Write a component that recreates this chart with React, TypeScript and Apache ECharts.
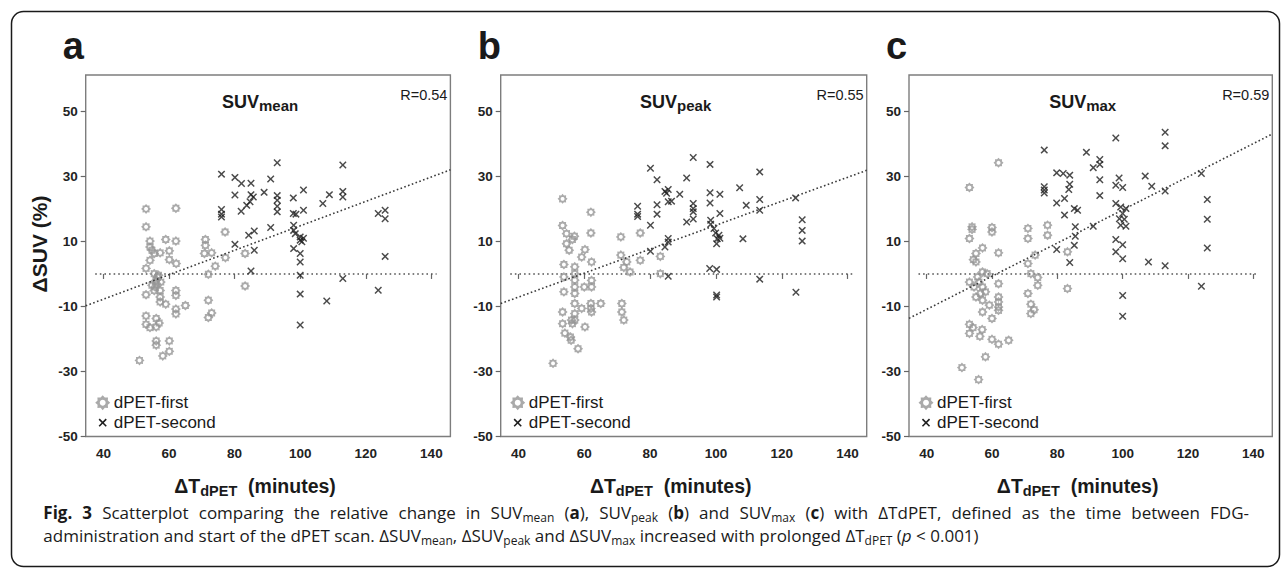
import React, { useEffect, useRef } from "react";
import * as echarts from "echarts";

// ---------------- data ----------------
const xTicks = [40, 60, 80, 100, 120, 140];
const yTicks = [-50, -30, -10, 10, 30, 50];
const xExtent = [34.6, 145.8];
const yExtent = [-50, 61.2];
const panelLetters = ["a", "b", "c"];
const panelMeasures = ["mean", "peak", "max"];
const rLabels = ["R=0.54", "R=0.55", "R=0.59"];
const fitSlopes = [0.376, 0.3685, 0.51];
const fitIntercepts = [-22.8, -21.85, -31.3];
const zeroLineX = [37.5, 141.6];
const seriesNames = ["dPET-first", "dPET-second"];

const meanFirst = [
  [53, 20.0], [62.1, 20.2], [53, 14.5], [54.2, 10.1], [59, 10.6], [62.1, 10.1], [71.1, 10.6],
  [54.2, 8.3], [54.8, 7.3], [55.5, 6.3], [60.1, 7.1], [57.3, 6.5], [71.1, 8.8], [70.8, 6.3],
  [73, 6.5], [54.2, 4.2], [60.1, 4.4], [62.2, 3.2], [77.2, 5.0], [74.1, 2.4], [77.1, 12.9],
  [83.2, 6.3], [53, 1.7], [55.5, 0.1], [56.8, -0.4], [56, -2], [54.8, -3.5], [55.5, -5.1],
  [57.3, -5.1], [53, -6.4], [57.3, -7.1], [57.3, -8.6], [59, -9.3], [62.1, -5.1], [62.1, -6.6],
  [72, -0.1], [72, -8.1], [65, -9.7], [62.1, -10.8], [62.1, -12.3], [83.2, -3.7], [73, -12],
  [72, -13.4], [53, -12.9], [53, -15.5], [54.2, -16.5], [56.1, -13.7], [57, -15.1], [56.1, -16.3],
  [56.1, -20.6], [56.1, -21.9], [60.1, -20.6], [60.1, -23.8], [58.1, -25.2], [51, -26.6],
  [56.5, -1], [57.5, -2.5], [55.8, -4], [56.2, -3],
];
const meanSecond = [
  [76, 30.7], [80.1, 29.7], [82.1, 27.8], [85, 27.9], [89, 25.1], [80.1, 24.3], [85, 24.4],
  [82, 19.3], [83.7, 21.1], [84.7, 22.2], [85.7, 23.7], [76, 19.8], [76, 18.4], [76, 17.5],
  [84.3, 11.9], [86, 13.2], [80.1, 9.1], [86, 7.3], [85, 0.9],
  [93, 34.2], [113, 33.5], [91, 29.2], [93, 24.1], [93, 22.7], [93, 20.8], [93, 19.1],
  [97.9, 23.4], [101, 25.8], [101, 19.6], [97.9, 18.6], [98.7, 18.4], [106.9, 21.7],
  [108.9, 24.4], [113, 25.4], [113, 23.7], [123.8, 18.6], [125.9, 19.6], [125.9, 17.0],
  [91, 14.3], [98, 15], [98, 13.4], [98.5, 12.4], [100, 11.4], [100, 10.4], [100.5, 9.9],
  [101, 11], [98, 7.8], [100, 6.3], [100, 3.7], [100, -0.4], [125.9, 5.4], [113, -1.4],
  [123.8, -5.0], [100, -6.2], [108.1, -8.3], [100, -15.7],
];
const peakFirst = [
  [53.4, 23.1], [62, 19], [53.4, 14.9], [62, 12.6], [54.6, 12.4], [56.4, 10.6], [54.6, 9.3],
  [55.4, 7.3], [57, 11.6], [60.2, 7.5], [59.2, 5.2], [62.2, 3.7], [71.1, 11.4], [77, 12.6],
  [71.1, 5.8], [72.9, 3.7], [73.9, 0.6], [72, 2], [77, 4.2], [83.1, 5.4], [83.1, 0.1],
  [53.8, 2.9], [57.1, 2.2], [57.1, 0.1], [57.1, -1.9], [57.1, -4], [57.1, -6], [57.1, -9.1],
  [57.1, -12.2], [57.1, -14.2], [53.8, -0.9], [53.8, -5.5], [60, -4], [62.2, -4], [62.2, -2],
  [62, -9.1], [62, -10.6], [62.2, -11.7], [65, -9.1], [59.2, -10.6], [53.4, -11.7],
  [53.4, -15.3], [56.1, -14.2], [56.4, -15.3], [60.2, -16.3], [54.1, -18.2], [55.8, -19.4],
  [56, -20.4], [58.1, -23], [71.4, -9.1], [71.4, -11.7], [72, -14.2], [50.5, -27.5],
];
const peakSecond = [
  [93.1, 35.8], [80.1, 32.5], [82.1, 29], [91.1, 29.5], [84.5, 25.4], [85.5, 26], [85, 24.8],
  [85.5, 22.2], [86.5, 22.4], [89, 24.5], [82.1, 21.3], [82.1, 18.4], [76.2, 20.8], [76.2, 18.4],
  [76.2, 17.7], [80.1, 15], [93.1, 21.7], [93.1, 20.1], [93.1, 19.1], [93.1, 16.9], [91.1, 16],
  [85.5, 10.9], [85.5, 9.8], [84.5, 8.3], [80.1, 7], [85.5, -0.7],
  [98.2, 33.7], [113.3, 31.4], [98.2, 25], [101.2, 24.5], [98.2, 21.8], [107.2, 26.5],
  [109.2, 21.1], [113.3, 22.9], [113.3, 19.6], [124.2, 23.4], [101.2, 18.6], [98.4, 16.5],
  [98.4, 15.3], [99.4, 14], [99.9, 12.6], [100.9, 11.9], [100.4, 10.8], [100.2, 9.3],
  [101.2, 11], [108.2, 10.8], [126.2, 16.7], [126.2, 13.4], [126.2, 10.1], [98.1, 1.7],
  [100.2, 1.4], [113.3, -1.6], [124.3, -5.6], [100.2, -6.5], [100.2, -7.1],
];
const maxFirst = [
  [62, 34.2], [53.1, 26.6], [53.9, 14.5], [53.9, 13.7], [60, 14.3], [60, 12.9], [53.1, 10.9],
  [57.1, 8], [55.1, 6.3], [54.3, 4.4], [55.1, 3.7], [62, 6.5], [71, 14], [71, 10.9], [77, 15],
  [77, 11.9], [73.2, 5.8], [71, 3.2], [71.9, 0.1], [74, -1.1], [74, -3.5], [83.1, 6.8],
  [83.1, -4.5], [57.1, 0.6], [58.5, 0.1], [53.1, -2.5], [55.6, -0.9], [54.5, -4], [57.1, -4],
  [55.1, -7.1], [57.1, -8.1], [59.2, -9.6], [62, -3], [62, -7.1], [62, -8.6], [62, -10.2],
  [62, -11.2], [71, -6], [71.9, -9.3], [71.9, -12.2], [72.9, -11], [57.1, -11.7], [60, -13.7],
  [53.1, -15.5], [53.1, -18.3], [54.2, -16.5], [56.3, -19.2], [57, -17.1], [60, -20.1],
  [62, -21.6], [65.1, -20.4], [58, -25.5], [50.8, -28.8], [55.9, -32.5], [56, -2.5],
  [58, -5.5], [56.5, -6],
];
const maxSecond = [
  [76, 38.1], [76, 26.8], [76, 25.8], [76, 24.9], [79.8, 31.1], [81.8, 30.9], [83.8, 30.4],
  [83.8, 27.6], [83.5, 26], [79.8, 21.8], [82.2, 23.2], [82.2, 18.1], [85.2, 20.1], [86.2, 19.6],
  [85.5, 14.5], [85.5, 11.6], [85.2, 8.8], [79.8, 7.5], [83.8, 3.5],
  [97.9, 41.8], [113, 43.6], [113, 39.4], [88.9, 37.4], [93, 35.2], [93, 33.7], [91, 32.7],
  [93, 29], [93, 24.1], [98.9, 29.5], [97.9, 27.3], [100, 26.6], [106.9, 30.1], [108.9, 27],
  [113, 25.5], [124.1, 30.9], [125.9, 22.9], [125.9, 16.8], [125.9, 8], [91, 14.7],
  [97.9, 21.7], [99.4, 20.6], [101, 20.1], [100, 18.6], [99, 17], [100.5, 16.8], [99.4, 15],
  [101, 14.7], [97.9, 10.6], [100, 9], [97.9, 6.8], [100, 4.7], [107.9, 3.7], [113, 2.5],
  [124.1, -3.8], [100, -6.6], [100, -13],
];

const firstData = [meanFirst, peakFirst, maxFirst];
const secondData = [meanSecond, peakSecond, maxSecond];

// caption runs: [style, text]
const captionLine1 = [
  ["b", "Fig. 3"], ["n", " Scatterplot comparing the relative change in SUV"], ["s", "mean"],
  ["n", " ("], ["b", "a"], ["n", "), SUV"], ["s", "peak"], ["n", " ("], ["b", "b"],
  ["n", ") and SUV"], ["s", "max"], ["n", " ("], ["b", "c"],
  ["n", ") with ΔTdPET, defined as the time between FDG-"],
];
const captionLine2 = [
  ["n", "administration and start of the dPET scan. ΔSUV"], ["s", "mean"], ["n", ", ΔSUV"],
  ["s", "peak"], ["n", " and ΔSUV"], ["s", "max"], ["n", " increased with prolonged ΔT"],
  ["s", "dPET"], ["n", " ("], ["i", "p"], ["n", " < 0.001)"],
];

// ---------------- layout / style ----------------
const GRID_LEFT = [85.7, 500.7, 909];
const GRID_WIDTH = [364.7, 366, 363.3];
const GRID_TOP = 75;
const GRID_HEIGHT = 361.5;
const FONT = "'Liberation Sans', Arial, Helvetica, sans-serif";
const CAP_FONT = "'Open Sans', 'Noto Sans', sans-serif";
const GRAY = "#969696";
const DARK = "#1e1e1e";
const CAP_SIZE = 17;
const CAP_SUB = 12;

function sunPathD() {
  const c = 10;
  const parts: string[] = [];
  const n = 16;
  for (let k = 0; k < n; k++) {
    const a = (k / n) * Math.PI * 2 - Math.PI / 2;
    const r = k % 2 === 0 ? 10 : 7.4;
    parts.push((k === 0 ? "M" : "L") + (c + r * Math.cos(a)).toFixed(2) + " " + (c + r * Math.sin(a)).toFixed(2));
  }
  parts.push("Z");
  const m = 20;
  for (let k = 0; k < m; k++) {
    const a = -(k / m) * Math.PI * 2 - Math.PI / 2;
    const r = 3.9;
    parts.push((k === 0 ? "M" : "L") + (c + r * Math.cos(a)).toFixed(2) + " " + (c + r * Math.sin(a)).toFixed(2));
  }
  parts.push("Z");
  return parts.join(" ");
}

function xPathD() {
  const L = 10, t = 1.6, c = 10;
  const pts = [[-t, -L], [t, -L], [t, -t], [L, -t], [L, t], [t, t], [t, L], [-t, L], [-t, t], [-L, t], [-L, -t], [-t, -t]];
  const s = Math.SQRT1_2;
  return pts.map(([x, y], k) => (k ? "L" : "M") + (c + (x - y) * s).toFixed(2) + " " + (c + (x + y) * s).toFixed(2)).join(" ") + " Z";
}

const SUN_D = sunPathD();
const X_D = xPathD();
let shapesRegistered = false;
function registerShapes() {
  if (shapesRegistered) return;
  echarts.graphic.registerShape("sunIcon", echarts.graphic.extendPath(SUN_D, {}) as any);
  echarts.graphic.registerShape("crossIcon", echarts.graphic.extendPath(X_D, {}) as any);
  shapesRegistered = true;
}

function tok(size: number, extra: any = {}) {
  return { fontSize: size, fontFamily: FONT, fill: "#1a1a1a", ...extra };
}
function capTok(size: number, extra: any = {}) {
  return { fontSize: size, fontFamily: CAP_FONT, fill: "#1a1a1a", lineHeight: 22, ...extra };
}
const capRich: any = {
  n: capTok(CAP_SIZE),
  b: capTok(CAP_SIZE, { fontWeight: "bold" }),
  i: capTok(CAP_SIZE, { fontStyle: "italic" }),
  s: capTok(CAP_SUB, { lineHeight: 11, verticalAlign: "bottom" }),
};

let measureCtx: CanvasRenderingContext2D | null = null;
function measure(st: string, text: string) {
  if (!measureCtx) {
    const c = document.createElement("canvas");
    measureCtx = c.getContext("2d");
  }
  const s = capRich[st];
  if (!measureCtx) return text.length * s.fontSize * 0.55;
  measureCtx.font = `${s.fontStyle || "normal"} ${s.fontWeight || "normal"} ${s.fontSize}px ${CAP_FONT}`;
  return measureCtx.measureText(text).width;
}

function richText(runs: string[][]) {
  return runs.map(([st, t]) => `{${st}|${t}}`).join("");
}

function justifiedLine(runs: string[][], x0: number, x1: number, y: number) {
  const words: string[][][] = [[]];
  runs.forEach(([st, txt]) => {
    txt.split(" ").forEach((p, k) => {
      if (k > 0) words.push([]);
      if (p) words[words.length - 1].push([st, p]);
    });
  });
  const ws = words.filter((w) => w.length);
  const widths = ws.map((w) => w.reduce((a, [st, t]) => a + measure(st, t), 0));
  const total = widths.reduce((a, b) => a + b, 0);
  const spaceW = measure("n", " ");
  let gap = (x1 - x0 - total) / Math.max(1, ws.length - 1);
  if (!(gap > spaceW)) gap = spaceW;
  let x = x0;
  return ws.map((w, k) => {
    const el = {
      type: "text", x, y,
      style: { align: "left", verticalAlign: "middle", rich: capRich, text: richText(w) },
    };
    x += widths[k] + gap;
    return el;
  });
}

function buildOption() {
  const idx = [0, 1, 2];
  const grids = idx.map((i) => ({
    left: GRID_LEFT[i], top: GRID_TOP, width: GRID_WIDTH[i], height: GRID_HEIGHT,
    show: true, borderColor: "#7d7d7d", borderWidth: 1.4, backgroundColor: "transparent",
    containLabel: false, outerBoundsMode: "none",
  }));
  const xAxes = idx.map((i) => ({
    type: "value", gridIndex: i, min: xExtent[0], max: xExtent[1],
    axisLine: { show: false }, splitLine: { show: false },
    axisTick: { show: true, length: 5, customValues: xTicks, lineStyle: { color: "#666", width: 1.2 } },
    axisLabel: { customValues: xTicks, fontSize: 13.5, fontWeight: "bold", color: "#222", fontFamily: FONT, margin: 10 },
  }));
  const yAxes = idx.map((i) => ({
    type: "value", gridIndex: i, min: yExtent[0], max: yExtent[1],
    axisLine: { show: false }, splitLine: { show: false },
    axisTick: { show: true, length: 5, customValues: yTicks, lineStyle: { color: "#666", width: 1.2 } },
    axisLabel: { customValues: yTicks, fontSize: 13.5, fontWeight: "bold", color: "#222", fontFamily: FONT, margin: 8 },
  }));
  const series: any[] = [];
  idx.forEach((i) => {
    const f = (x: number) => fitSlopes[i] * x + fitIntercepts[i];
    series.push({
      type: "line", name: "zero" + i, xAxisIndex: i, yAxisIndex: i, silent: true,
      data: [[zeroLineX[0], 0], [zeroLineX[1], 0]], symbol: "none",
      lineStyle: { type: [1.6, 3], width: 1.6, color: "#555" }, z: 2,
    });
    series.push({
      type: "scatter", name: seriesNames[0], xAxisIndex: i, yAxisIndex: i, data: firstData[i],
      symbol: "path://" + SUN_D, symbolSize: 10, itemStyle: { color: GRAY }, z: 3,
    });
    series.push({
      type: "scatter", name: seriesNames[1], xAxisIndex: i, yAxisIndex: i, data: secondData[i],
      symbol: "path://" + X_D, symbolSize: 7.5, itemStyle: { color: DARK }, z: 4,
    });
    series.push({
      type: "line", name: "fit" + i, xAxisIndex: i, yAxisIndex: i, silent: true,
      data: [[xExtent[0], f(xExtent[0])], [xExtent[1], f(xExtent[1])]], symbol: "none",
      lineStyle: { type: [1.6, 2.4], width: 1.6, color: "#3a3a3a" }, z: 5,
    });
  });

  const g: any[] = [];
  g.push({
    type: "rect", silent: true, z: -10,
    shape: { x: 11.5, y: 11.5, width: 1268, height: 555, r: 12 },
    style: { fill: "none", stroke: "#1a1a1a", lineWidth: 1.5 },
  });
  idx.forEach((i) => {
    const gl = GRID_LEFT[i], gw = GRID_WIDTH[i], gc = gl + gw / 2;
    g.push({ type: "text", x: gl - 23, y: 46, style: { text: panelLetters[i], ...tok(38, { fontWeight: "bold" }), align: "left", verticalAlign: "middle" } });
    g.push({
      type: "text", x: gc - 8, y: 102,
      style: {
        text: `{m|SUV}{s|${panelMeasures[i]}}`, align: "center", verticalAlign: "middle",
        rich: { m: tok(18, { fontWeight: "bold", lineHeight: 22 }), s: tok(15, { fontWeight: "bold", lineHeight: 11, verticalAlign: "bottom" }) },
      },
    });
    g.push({ type: "text", x: gl + gw - 3, y: 95, style: { text: rLabels[i], ...tok(14.5), align: "right", verticalAlign: "middle" } });
    g.push({
      type: "text", x: gc - 13, y: 486,
      style: {
        text: "{m|ΔT}{s|dPET}{m|  (minutes)}", align: "center", verticalAlign: "middle",
        rich: { m: tok(19.5, { fontWeight: "bold", lineHeight: 24 }), s: tok(14.5, { fontWeight: "bold", lineHeight: 12, verticalAlign: "bottom" }) },
      },
    });
    // legend
    const sunS = 0.75, xS = 0.5;
    const icx = gl + 17;
    g.push({ type: "sunIcon", x: icx - 10 * sunS, y: 402.7 - 10 * sunS, scaleX: sunS, scaleY: sunS, style: { fill: "#aaaaaa" } });
    g.push({ type: "crossIcon", x: icx - 10 * xS, y: 422.7 - 10 * xS, scaleX: xS, scaleY: xS, style: { fill: DARK } });
    g.push({ type: "text", x: gl + 28, y: 402.7, style: { text: seriesNames[0], ...tok(17), align: "left", verticalAlign: "middle" } });
    g.push({ type: "text", x: gl + 28, y: 422.7, style: { text: seriesNames[1], ...tok(17), align: "left", verticalAlign: "middle" } });
  });
  g.push({
    type: "text", x: 39, y: 244, rotation: Math.PI / 2,
    style: { text: "ΔSUV (%)", ...tok(21, { fontWeight: "bold" }), align: "center", verticalAlign: "middle" },
  });
  justifiedLine(captionLine1, 43.3, 1249, 512).forEach((el) => g.push(el));
  g.push({
    type: "text", x: 43.3, y: 535.5,
    style: { align: "left", verticalAlign: "middle", rich: capRich, text: richText(captionLine2) },
  });

  return {
    animation: false,
    backgroundColor: "#ffffff",
    grid: grids,
    xAxis: xAxes,
    yAxis: yAxes,
    series,
    graphic: g,
  };
}

export default function App() {
  const ref = useRef<HTMLDivElement>(null);
  useEffect(() => {
    if (!ref.current) return;
    registerShapes();
    const chart = echarts.init(ref.current, undefined, { renderer: "svg" });
    chart.setOption(buildOption() as any);
    return () => chart.dispose();
  }, []);
  return (
    <div
      ref={ref}
      style={{ position: "fixed", left: 0, top: 0, width: 1285, height: 569, background: "#fff" }}
    />
  );
}
